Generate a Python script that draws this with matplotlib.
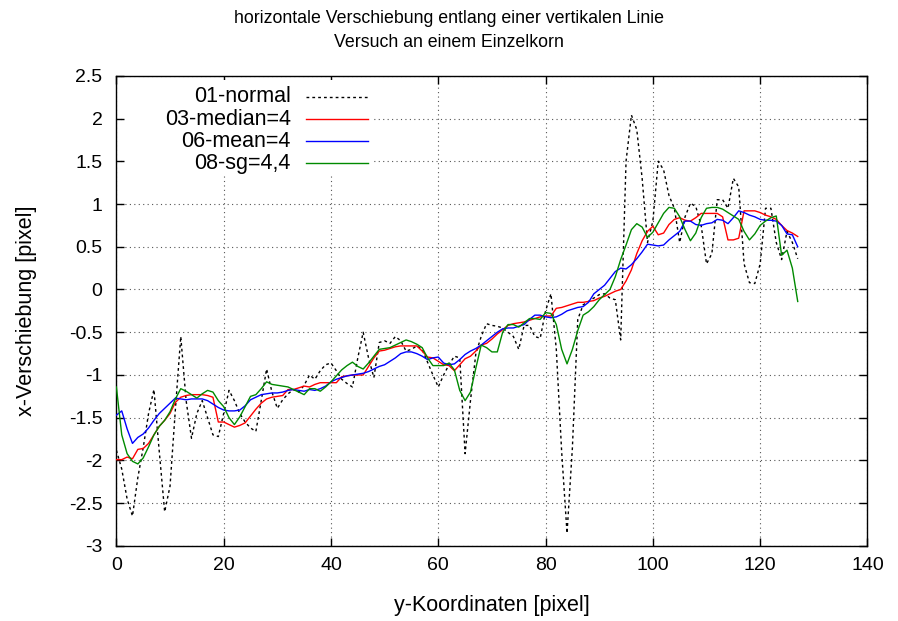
import numpy as np
import matplotlib
matplotlib.use("Agg")
from matplotlib import pyplot as plt
from matplotlib.patches import Rectangle

plt.rcParams['font.family'] = ['Liberation Sans', 'DejaVu Sans']

# y-coordinates (pixel) 0..127
y_koord = np.arange(128)

normal = [-1.88, -2.1, -2.45, -2.65, -2.2, -1.85, -1.45, -1.17, -1.9, -2.6,
          -2.3, -1.4, -0.55, -1.3, -1.74, -1.45, -1.3, -1.5, -1.7, -1.72,
          -1.45, -1.18, -1.3, -1.45, -1.55, -1.62, -1.66, -1.3, -0.93, -1.2,
          -1.39, -1.29, -1.22, -1.17, -1.2, -1.12, -1.0, -1.05, -0.95, -0.88,
          -0.86, -0.95, -1.05, -1.1, -1.14, -0.8, -0.5, -0.8, -1.03, -0.62,
          -0.6, -0.63, -0.55, -0.6, -0.72, -0.7, -0.66, -0.7, -0.85, -1.0,
          -1.14, -1.0, -0.88, -0.78, -0.8, -1.92, -1.3, -0.75, -0.55, -0.4,
          -0.42, -0.43, -0.45, -0.5, -0.55, -0.7, -0.42, -0.42, -0.55, -0.57,
          -0.25, -0.05, -0.7, -1.9, -2.85, -1.85, -0.35, -0.18, -0.14, -0.1,
          -0.06, -0.05, -0.1, -0.12, -0.59, 1.5, 2.04, 1.87, 1.3, 0.55,
          0.8, 1.5, 1.4, 1.1, 0.95, 0.55, 0.85, 1.01, 0.97, 0.75,
          0.3, 0.42, 1.05, 1.05, 0.95, 1.3, 1.2, 0.3, 0.08, 0.07,
          0.3, 0.95, 0.95, 0.55, 0.35, 0.68, 0.55, 0.36]

median4 = [-1.99, -1.99, -1.96, -1.98, -1.87, -1.86, -1.8, -1.7, -1.6, -1.53,
           -1.45, -1.32, -1.26, -1.24, -1.23, -1.23, -1.23, -1.24, -1.26, -1.55,
           -1.55, -1.58, -1.61, -1.59, -1.56, -1.48, -1.4, -1.33, -1.28, -1.26,
           -1.25, -1.24, -1.17, -1.17, -1.15, -1.13, -1.14, -1.11, -1.09, -1.09,
           -1.09, -1.09, -1.02, -1.01, -1.0, -1.0, -1.0, -0.9, -0.8, -0.72,
           -0.71, -0.69, -0.67, -0.66, -0.66, -0.66, -0.66, -0.72, -0.79, -0.8,
           -0.84, -0.88, -0.89, -0.95, -0.88, -0.81, -0.78, -0.72, -0.65, -0.63,
           -0.58, -0.52, -0.47, -0.42, -0.4, -0.39, -0.38, -0.36, -0.34, -0.32,
           -0.31, -0.31, -0.22, -0.21, -0.19, -0.17, -0.15, -0.15, -0.14, -0.13,
           -0.1, -0.08, -0.05, -0.02, 0.0, 0.1, 0.23, 0.42, 0.57, 0.68,
           0.74, 0.64, 0.66, 0.76, 0.82, 0.84, 0.81, 0.8, 0.84, 0.89,
           0.89, 0.89, 0.89, 0.85, 0.58, 0.58, 0.6, 0.92, 0.92, 0.92,
           0.9, 0.87, 0.85, 0.82, 0.75, 0.69, 0.66, 0.62]

mean4 = [-1.47, -1.42, -1.63, -1.8, -1.73, -1.69, -1.62, -1.53, -1.45, -1.39,
         -1.33, -1.27, -1.28, -1.29, -1.28, -1.28, -1.28, -1.3, -1.34, -1.38,
         -1.41, -1.42, -1.42, -1.41, -1.36, -1.29, -1.26, -1.23, -1.22, -1.21,
         -1.21, -1.2, -1.18, -1.17, -1.18, -1.19, -1.17, -1.18, -1.16, -1.13,
         -1.08, -1.05, -1.03, -1.01, -1.0, -0.99, -0.98, -0.96, -0.93, -0.9,
         -0.88, -0.84, -0.8, -0.75, -0.73, -0.73, -0.75, -0.78, -0.82, -0.8,
         -0.79, -0.86, -0.88, -0.87, -0.82, -0.76, -0.72, -0.69, -0.65, -0.6,
         -0.55, -0.5, -0.46, -0.45, -0.45, -0.43, -0.41, -0.35, -0.3, -0.3,
         -0.32, -0.33, -0.32, -0.29, -0.25, -0.23, -0.21, -0.2, -0.15, -0.05,
         0.0, 0.05, 0.13, 0.21, 0.25, 0.24, 0.29, 0.36, 0.44, 0.53,
         0.52, 0.51, 0.52, 0.58, 0.63, 0.68, 0.8, 0.8, 0.76, 0.75,
         0.77, 0.78, 0.82, 0.81, 0.77, 0.84, 0.92, 0.9, 0.87, 0.85,
         0.82, 0.81, 0.81, 0.8, 0.75, 0.65, 0.64, 0.5]

sg44 = [-1.14, -1.7, -1.92, -2.01, -2.04, -1.97, -1.84, -1.7, -1.6, -1.53,
        -1.43, -1.28, -1.16, -1.19, -1.23, -1.27, -1.22, -1.18, -1.2, -1.3,
        -1.37, -1.5, -1.58, -1.49, -1.37, -1.25, -1.23, -1.16, -1.08, -1.11,
        -1.12, -1.13, -1.14, -1.17, -1.2, -1.23, -1.16, -1.16, -1.19, -1.14,
        -1.08, -1.01, -0.94, -0.89, -0.85, -0.9, -0.93, -0.86, -0.78, -0.7,
        -0.69, -0.68, -0.65, -0.62, -0.59, -0.61, -0.64, -0.68, -0.8, -0.89,
        -0.89, -0.89, -0.86, -0.94, -1.18, -1.3, -1.2, -0.92, -0.65, -0.68,
        -0.73, -0.73, -0.5, -0.41, -0.41, -0.44, -0.39, -0.34, -0.34, -0.35,
        -0.27, -0.28, -0.41, -0.7, -0.87, -0.7, -0.48, -0.3, -0.26, -0.2,
        -0.12, -0.06, 0.0, 0.15, 0.35, 0.52, 0.7, 0.77, 0.73, 0.61,
        0.67, 0.78, 0.89, 0.96, 0.95, 0.85, 0.7, 0.57, 0.66, 0.84,
        0.95, 0.96, 0.96, 0.94, 0.9, 0.86, 0.82, 0.68, 0.58, 0.65,
        0.75, 0.8, 0.84, 0.86, 0.4, 0.46, 0.25, -0.14]

series = [
    ("01-normal", normal, "black", (0, (2, 2.2))),
    ("03-median=4", median4, "#ff0000", "-"),
    ("06-mean=4", mean4, "#0000ff", "-"),
    ("08-sg=4,4", sg44, "#008a00", "-"),
]

fig = plt.figure(figsize=(8.98, 6.21), dpi=100)
ax = fig.add_axes([0.1296, 0.1208, 0.8364, 0.7572])

for name, vals, col, ls in series:
    ax.plot(y_koord, vals, color=col, linestyle=ls, linewidth=1.0, zorder=3)

ax.set_xlim(0, 140)
ax.set_ylim(-3, 2.5)
ax.set_xticks(np.arange(0, 141, 20))
ax.set_yticks(np.arange(-3, 2.51, 0.5))
ax.set_yticklabels(["%g" % v for v in np.arange(-3, 2.51, 0.5)])
ax.tick_params(direction="in", length=6, width=1, top=True, right=True,
               labelsize=14, colors="black")
ax.tick_params(axis="y", pad=10)
ax.tick_params(axis="x", pad=8)
ax.grid(True, color="#555555", linestyle=(0, (1, 3)), linewidth=0.8)
ax.set_axisbelow(True)
for s in ax.spines.values():
    s.set_linewidth(1.0)

ax.set_xlabel("y-Koordinaten [pixel]", fontsize=15.5)
ax.set_ylabel("x-Verschiebung [pixel]", fontsize=15.5)
ax.xaxis.set_label_coords(0.5, -0.104)
ax.yaxis.set_label_coords(-0.106, 0.5)

fig.text(0.5, 0.971, "horizontale Verschiebung entlang einer vertikalen Linie",
         ha="center", va="center", fontsize=12.8)
fig.text(0.5, 0.932, "Versuch an einem Einzelkorn",
         ha="center", va="center", fontsize=12.8)

# opaque key like gnuplot
ax.add_patch(Rectangle((0.012, 0.79), 0.33, 0.2, transform=ax.transAxes,
                       facecolor="white", edgecolor="none", zorder=1))
row_y = [0.955, 0.908, 0.861, 0.814]
for (name, vals, col, ls), ry in zip(series, row_y):
    ax.text(0.232, ry, name, transform=ax.transAxes, ha="right", va="center",
            fontsize=15.5, zorder=4)
    ax.plot([0.253, 0.335], [ry, ry], transform=ax.transAxes, color=col,
            linestyle=ls, linewidth=1.0, zorder=4)

fig.savefig("out.png", dpi=100)
